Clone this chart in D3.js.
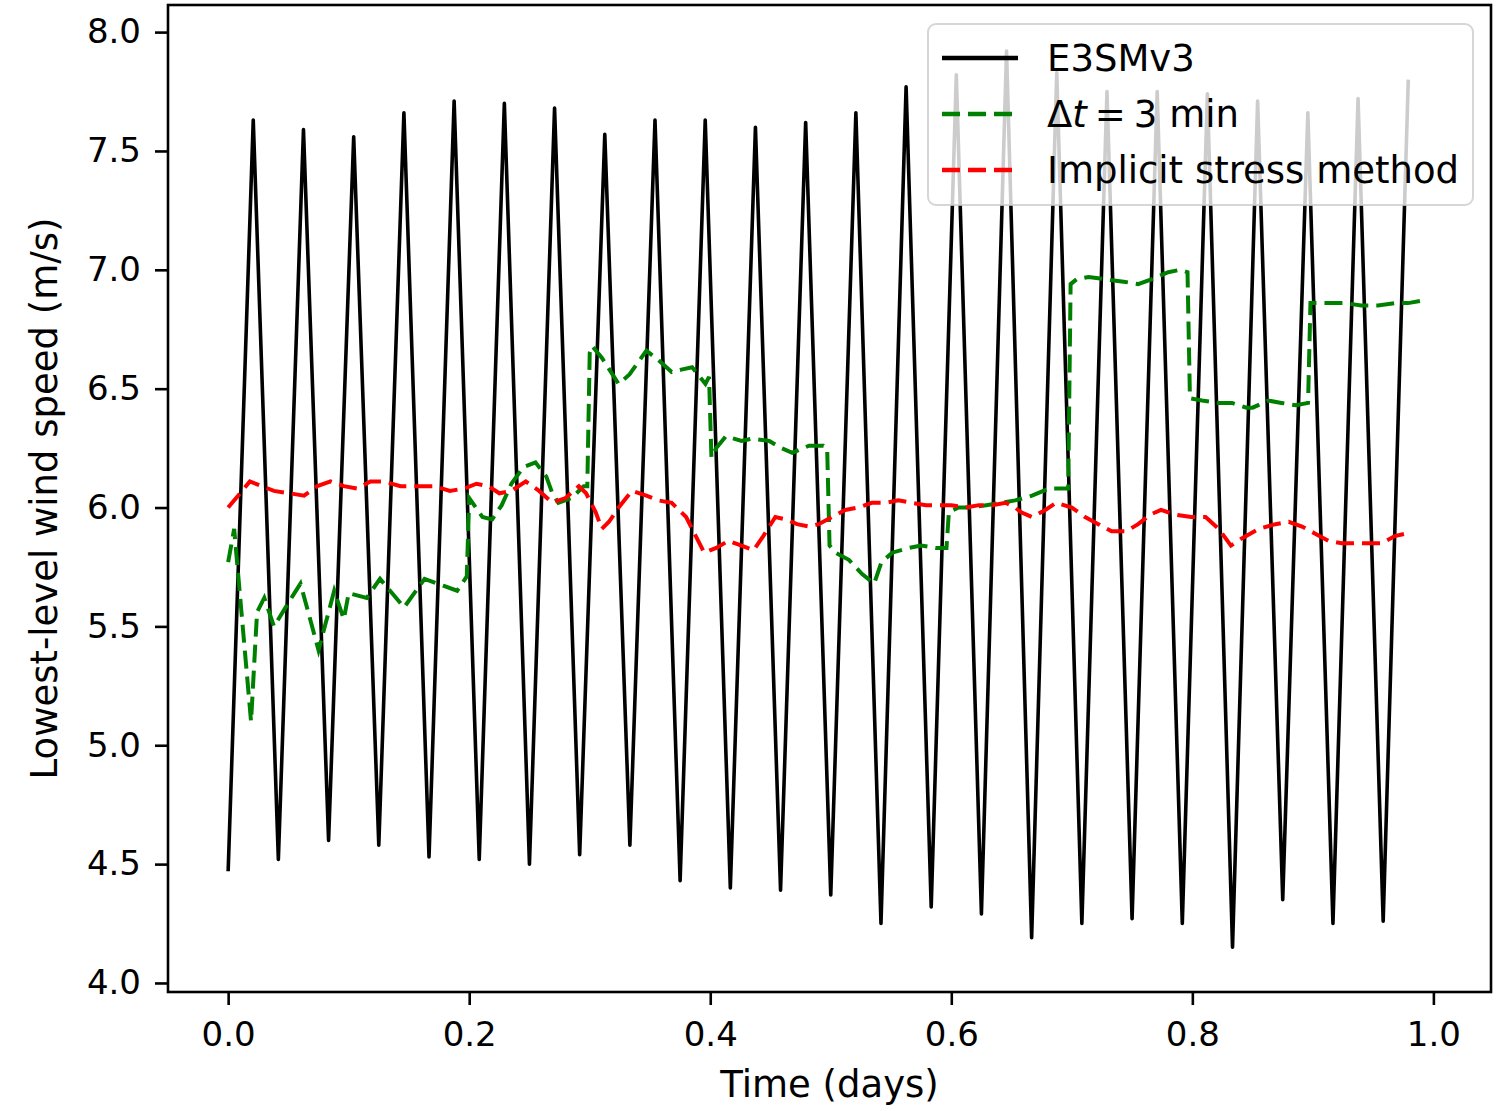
<html>
  <head>
    <meta charset="utf-8">
    <title>Lowest-level wind speed</title>
    <style>
      body { margin: 0; background: #fff; }
      text { font-family: 'DejaVu Sans', sans-serif; fill: #000; }
    </style>
  </head>
  <body>
    <script src="https://d3js.org/d3.v7.min.js"></script>
    <script>
      // E3SMv3: half-hourly output, starts on a trough
      var e3smStep = 1 / 48;
      var e3smSpeed = [4.47, 7.63, 4.52, 7.59, 4.60, 7.56, 4.58, 7.66, 4.53, 7.71,
                       4.52, 7.70, 4.50, 7.68, 4.54, 7.57, 4.58, 7.63, 4.43, 7.63,
                       4.40, 7.60, 4.39, 7.62, 4.37, 7.66, 4.25, 7.77, 4.32, 7.82,
                       4.29, 7.92, 4.19, 7.83, 4.25, 7.75, 4.27, 7.75, 4.25, 7.74,
                       4.15, 7.71, 4.35, 7.66, 4.25, 7.72, 4.26, 7.80];

      // dt = 3 min run
      var dt3Time = [0.000, 0.005, 0.019, 0.024, 0.030, 0.038, 0.055, 0.060, 0.075, 0.088,
                     0.096, 0.100, 0.115, 0.126, 0.146, 0.163, 0.179, 0.190, 0.198, 0.200,
                     0.211, 0.219, 0.227, 0.235, 0.245, 0.255, 0.264, 0.269, 0.274, 0.285,
                     0.295, 0.298, 0.300, 0.302, 0.310, 0.324, 0.333, 0.347, 0.357, 0.368,
                     0.376, 0.385, 0.396, 0.399, 0.401, 0.405, 0.413, 0.426, 0.435, 0.449,
                     0.459, 0.468, 0.482, 0.494, 0.497, 0.499, 0.504, 0.515, 0.526, 0.536,
                     0.542, 0.551, 0.565, 0.575, 0.587, 0.596, 0.598, 0.606, 0.617, 0.629,
                     0.642, 0.653, 0.667, 0.681, 0.693, 0.697, 0.699, 0.704, 0.714, 0.728,
                     0.743, 0.755, 0.766, 0.780, 0.790, 0.796, 0.798, 0.808, 0.822, 0.833,
                     0.845, 0.850, 0.863, 0.874, 0.886, 0.896, 0.898, 0.902, 0.913, 0.927,
                     0.940, 0.954, 0.968, 0.979, 0.990];
      var dt3Speed = [5.77, 5.91, 5.10, 5.56, 5.62, 5.50, 5.64, 5.68, 5.40, 5.65,
                      5.53, 5.64, 5.62, 5.70, 5.58, 5.70, 5.67, 5.65, 5.71, 6.04,
                      5.96, 5.95, 6.01, 6.10, 6.17, 6.19, 6.13, 6.06, 6.02, 6.04,
                      6.09, 6.09, 6.65, 6.68, 6.63, 6.52, 6.56, 6.66, 6.62, 6.57,
                      6.58, 6.59, 6.52, 6.55, 6.21, 6.25, 6.30, 6.28, 6.29, 6.28,
                      6.25, 6.23, 6.26, 6.26, 6.25, 5.84, 5.81, 5.78, 5.72, 5.68,
                      5.77, 5.81, 5.83, 5.84, 5.83, 5.83, 5.98, 6.00, 6.00, 6.01,
                      6.02, 6.03, 6.05, 6.08, 6.08, 6.08, 6.94, 6.96, 6.97, 6.96,
                      6.95, 6.94, 6.96, 6.99, 7.00, 6.99, 6.46, 6.45, 6.44, 6.44,
                      6.42, 6.42, 6.45, 6.44, 6.43, 6.44, 6.86, 6.86, 6.86, 6.86,
                      6.85, 6.85, 6.86, 6.86, 6.87];

      // implicit stress method
      var implicitTime = [0.000, 0.010, 0.018, 0.028, 0.038, 0.051, 0.063, 0.074, 0.085, 0.096,
                          0.107, 0.118, 0.129, 0.143, 0.157, 0.171, 0.184, 0.196, 0.206, 0.216,
                          0.225, 0.235, 0.247, 0.258, 0.269, 0.280, 0.291, 0.297, 0.305, 0.310,
                          0.316, 0.324, 0.335, 0.347, 0.357, 0.368, 0.380, 0.388, 0.395, 0.405,
                          0.415, 0.426, 0.436, 0.444, 0.454, 0.463, 0.472, 0.482, 0.490, 0.501,
                          0.512, 0.523, 0.534, 0.546, 0.556, 0.567, 0.579, 0.590, 0.600, 0.612,
                          0.623, 0.634, 0.645, 0.653, 0.658, 0.667, 0.678, 0.687, 0.700, 0.711,
                          0.722, 0.733, 0.745, 0.755, 0.765, 0.774, 0.786, 0.799, 0.811, 0.822,
                          0.832, 0.841, 0.855, 0.869, 0.880, 0.891, 0.902, 0.913, 0.924, 0.935,
                          0.946, 0.957, 0.968, 0.977];
      var implicitSpeed = [6.00, 6.06, 6.11, 6.09, 6.07, 6.06, 6.05, 6.09, 6.11, 6.09,
                           6.08, 6.11, 6.11, 6.09, 6.09, 6.09, 6.07, 6.08, 6.10, 6.09,
                           6.06, 6.07, 6.11, 6.07, 6.02, 6.04, 6.09, 6.06, 5.98, 5.91,
                           5.94, 6.00, 6.07, 6.05, 6.03, 6.02, 5.96, 5.88, 5.81, 5.83,
                           5.86, 5.84, 5.82, 5.88, 5.96, 5.95, 5.93, 5.92, 5.93, 5.96,
                           5.99, 6.00, 6.02, 6.02, 6.03, 6.02, 6.01, 6.01, 6.01, 6.00,
                           6.01, 6.01, 6.02, 6.00, 5.98, 5.96, 5.99, 6.02, 6.00, 5.96,
                           5.93, 5.90, 5.90, 5.93, 5.97, 5.99, 5.97, 5.96, 5.96, 5.91,
                           5.84, 5.87, 5.91, 5.93, 5.94, 5.92, 5.89, 5.86, 5.85, 5.85,
                           5.85, 5.85, 5.88, 5.89];

      var xTicks = [0.0, 0.2, 0.4, 0.6, 0.8, 1.0];
      var yTicks = [4.0, 4.5, 5.0, 5.5, 6.0, 6.5, 7.0, 7.5, 8.0];
      var legendNames = ["E3SMv3", "dt", "Implicit stress method"];
      var legendColors = ["#000000", "#008000", "#ff0000"];

      var width = 1500;
      var height = 1111;
      var margin = {top: 5, right: 9, bottom: 119, left: 168};
      var tickFont = 34;
      var labelFont = 37;

      var svg = d3.select("body")
        .append("svg")
        .attr("width", width)
        .attr("height", height);

      var x = d3.scaleLinear()
        .domain([-0.0499, 1.0478])
        .range([margin.left, width - margin.right]);

      var y = d3.scaleLinear()
        .domain([3.962, 8.114])
        .range([height - margin.bottom, margin.top]);

      var line = d3.line()
        .x(function(d) { return x(d[0]); })
        .y(function(d) { return y(d[1]); });

      var e3sm = e3smSpeed.map(function(v, i) { return [i * e3smStep, v]; });
      var dt3 = dt3Time.map(function(t, i) { return [t, dt3Speed[i]]; });
      var implicit = implicitTime.map(function(t, i) { return [t, implicitSpeed[i]]; });

      svg.append("path")
        .attr("d", line(e3sm))
        .attr("fill", "none")
        .attr("stroke", legendColors[0])
        .attr("stroke-width", 3.6)
        .attr("stroke-linejoin", "round");

      svg.append("path")
        .attr("d", line(dt3))
        .attr("fill", "none")
        .attr("stroke", legendColors[1])
        .attr("stroke-width", 4)
        .attr("stroke-dasharray", "18,8");

      svg.append("path")
        .attr("d", line(implicit))
        .attr("fill", "none")
        .attr("stroke", legendColors[2])
        .attr("stroke-width", 4)
        .attr("stroke-dasharray", "18,8");

      // axes
      var xAxis = svg.append("g")
        .attr("transform", "translate(0," + (height - margin.bottom) + ")")
        .call(d3.axisBottom(x).tickValues(xTicks).tickFormat(d3.format(".1f"))
          .tickSize(13).tickPadding(17));
      xAxis.select(".domain").remove();
      xAxis.selectAll("line").attr("stroke-width", 2.6);
      xAxis.selectAll("text").attr("font-size", tickFont).attr("fill", "#000");

      var yAxis = svg.append("g")
        .attr("transform", "translate(" + margin.left + ",0)")
        .call(d3.axisLeft(y).tickValues(yTicks).tickFormat(d3.format(".1f"))
          .tickSize(13).tickPadding(14));
      yAxis.select(".domain").remove();
      yAxis.selectAll("line").attr("stroke-width", 2.6);
      yAxis.selectAll("text").attr("font-size", tickFont).attr("fill", "#000");
      svg.selectAll(".tick text").attr("font-family", "'DejaVu Sans'");

      // frame
      svg.append("rect")
        .attr("x", margin.left)
        .attr("y", margin.top)
        .attr("width", width - margin.left - margin.right)
        .attr("height", height - margin.top - margin.bottom)
        .attr("fill", "none")
        .attr("stroke", "#000")
        .attr("stroke-width", 2.6);

      // labels
      svg.append("text")
        .attr("x", (margin.left + width - margin.right) / 2)
        .attr("y", 1097)
        .attr("text-anchor", "middle")
        .attr("font-size", labelFont)
        .text("Time (days)");

      svg.append("text")
        .attr("transform", "translate(57," + ((margin.top + height - margin.bottom) / 2) + ") rotate(-90)")
        .attr("text-anchor", "middle")
        .attr("font-size", labelFont)
        .text("Lowest-level wind speed (m/s)");

      // legend
      var legend = svg.append("g");
      legend.append("rect")
        .attr("x", 928)
        .attr("y", 24)
        .attr("width", 545)
        .attr("height", 181)
        .attr("rx", 8)
        .attr("fill", "#fff")
        .attr("fill-opacity", 0.8)
        .attr("stroke", "#cccccc")
        .attr("stroke-opacity", 0.8)
        .attr("stroke-width", 2);

      legendNames.forEach(function(name, i) {
        var ly = 58 + i * 56;
        var l = legend.append("line")
          .attr("x1", 942).attr("x2", 1018)
          .attr("y1", ly).attr("y2", ly)
          .attr("stroke", legendColors[i])
          .attr("stroke-width", 4.5);
        if (i > 0) l.attr("stroke-dasharray", "18,8");

        var t = legend.append("text")
          .attr("x", 1047)
          .attr("y", ly + 13)
          .attr("font-size", labelFont);
        if (name == "dt") {
          t.append("tspan").text("\u0394");
          t.append("tspan").attr("font-style", "italic").text("t");
          t.append("tspan").attr("dx", 8).text("=");
          t.append("tspan").attr("dx", 8).text("3 min");
        } else {
          t.text(name);
        }
      });
    </script>
  </body>
</html>
